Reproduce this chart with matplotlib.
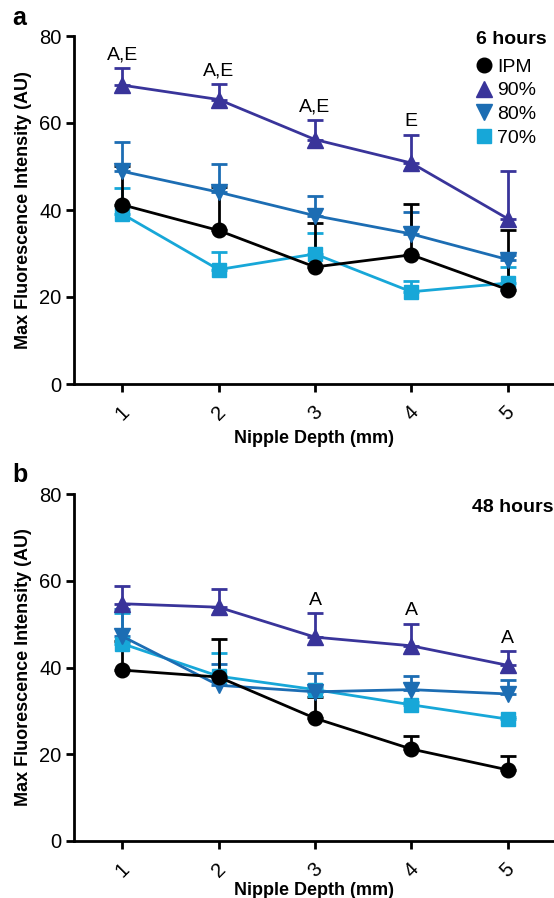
import numpy as np
import matplotlib
matplotlib.use("Agg")
import matplotlib.pyplot as plt

plt.rcParams['font.family'] = ['Liberation Sans', 'DejaVu Sans']

depth = [1, 2, 3, 4, 5]
series_names = ["IPM", "90%", "80%", "70%"]

# Panel a (6 hours): means and upper error (SEM)
a_ipm = [41.2, 35.3, 26.9, 29.7, 21.7]
a_ipm_err = [8.8, 10.1, 10.1, 11.7, 13.6]
a_90 = [68.7, 65.4, 56.2, 50.8, 38.0]
a_90_err = [3.9, 3.5, 4.6, 6.5, 10.9]
a_80 = [48.9, 44.1, 38.7, 34.5, 28.6]
a_80_err = [6.8, 6.4, 4.6, 5.0, 1.0]
a_70 = [39.1, 26.3, 29.9, 21.2, 23.2]
a_70_err = [5.9, 4.0, 4.9, 2.4, 3.8]
a_labels = ["A,E", "A,E", "A,E", "E", ""]

# Panel b (48 hours)
b_ipm = [39.4, 37.8, 28.3, 21.2, 16.4]
b_ipm_err = [6.7, 8.8, 4.9, 2.9, 3.3]
b_90 = [54.7, 53.9, 47.0, 45.0, 40.5]
b_90_err = [4.1, 4.2, 5.5, 5.1, 3.2]
b_80 = [47.2, 35.9, 34.4, 34.9, 33.9]
b_80_err = [6.3, 4.9, 4.4, 3.2, 3.2]
b_70 = [45.5, 38.0, 34.9, 31.4, 28.1]
b_70_err = [7.0, 5.4, 0.6, 0.6, 0.5]
b_labels = ["", "", "A", "A", "A"]

colors = {"IPM": "#000000", "90%": "#39349a", "80%": "#1c6db3", "70%": "#17a7d8"}
markers = {"IPM": "o", "90%": "^", "80%": "v", "70%": "s"}
msizes = {"IPM": 10.5, "90%": 11, "80%": 11, "70%": 10}

fig = plt.figure(figsize=(5.54, 8.98), dpi=100)
W, H = 554, 898

def make_ax(top_px, bot_px):
    left = 74 / W
    return fig.add_axes([left, 1 - bot_px / H, 1 - left, (bot_px - top_px) / H])

def draw(ax, data, labels, title, legend, xpad):
    order = ["70%", "80%", "90%", "IPM"]
    handles = {}
    for name in order:
        y, e = data[name]
        y = np.array(y); e = np.array(e)
        c = colors[name]
        ax.errorbar(depth, y, yerr=[np.zeros_like(e), e], fmt='none', ecolor=c,
                    elinewidth=2, capsize=6, capthick=2, zorder=2)
        ln, = ax.plot(depth, y, color=c, lw=2, marker=markers[name],
                      ms=msizes[name], mfc=c, mec=c, zorder=3)
        handles[name] = ln
    top = np.array(data["90%"][0]) + np.array(data["90%"][1])
    for xi, t, lab in zip(depth, top, labels):
        if lab:
            ax.text(xi, t + 1.0, lab, ha='center', va='bottom', fontsize=14)
    ax.set_xlim(0.5, 5.48)
    ax.set_ylim(0, 80)
    ax.set_yticks([0, 20, 40, 60, 80])
    ax.set_xticks(depth)
    ax.set_xticklabels([str(d) for d in depth], rotation=45, ha='center', va='top')
    ax.spines['top'].set_visible(False)
    ax.spines['right'].set_visible(False)
    for s in ['left', 'bottom']:
        ax.spines[s].set_linewidth(2)
    ax.tick_params(axis='both', direction='out', length=6, width=2, labelsize=14.5, pad=3)
    ax.tick_params(axis='x', pad=7)
    ax.set_ylabel("Max Fluorescence Intensity (AU)", fontsize=13, fontweight='bold', labelpad=5)
    ax.set_xlabel("Nipple Depth (mm)", fontsize=13, fontweight='bold', labelpad=xpad)
    if legend:
        fig.text(476 / W, 1 - 39 / H, title, fontsize=14, fontweight='bold',
                 ha='left', va='center')
        hs = [handles[n] for n in series_names]
        leg = fig.legend(hs, series_names, loc='upper left',
                         bbox_to_anchor=(477 / W, 1 - 58 / H), frameon=False, fontsize=14,
                         handlelength=0.7, handletextpad=0.35, labelspacing=0.32,
                         borderpad=0, borderaxespad=0)
        for lh in leg.legend_handles:
            lh.set_linestyle('none')
    else:
        ax.text(1.0, 0.985, title, transform=ax.transAxes, ha='right', va='top',
                fontsize=14, fontweight='bold')

ax_a = make_ax(36, 384)
draw(ax_a, {"IPM": (a_ipm, a_ipm_err), "90%": (a_90, a_90_err),
            "80%": (a_80, a_80_err), "70%": (a_70, a_70_err)}, a_labels, "6 hours", True, 5)
ax_b = make_ax(494, 841)
draw(ax_b, {"IPM": (b_ipm, b_ipm_err), "90%": (b_90, b_90_err),
            "80%": (b_80, b_80_err), "70%": (b_70, b_70_err)}, b_labels, "48 hours", False, 1)

fig.text(12 / W, 1 - 18 / H, "a", fontsize=18, fontweight='bold', va='center', ha='left')
fig.text(12 / W, 1 - 475 / H, "b", fontsize=18, fontweight='bold', va='center', ha='left')

fig.savefig("out.png", dpi=100)
